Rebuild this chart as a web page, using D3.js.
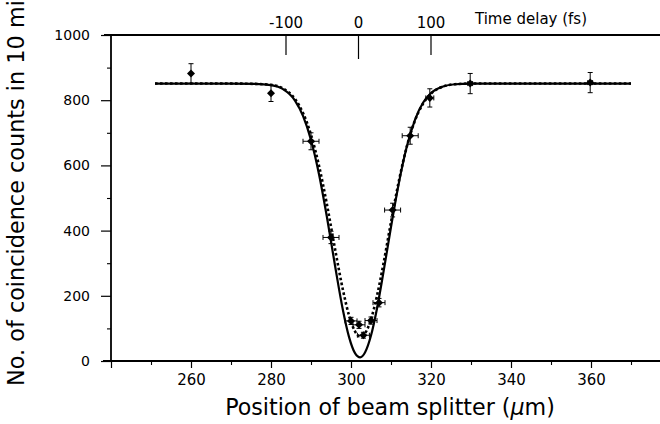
<!DOCTYPE html>
<html><head><meta charset="utf-8">
<script src="https://cdn.jsdelivr.net/npm/d3@7"></script>
<style>body{margin:0;background:#fff} svg{display:block}</style>
</head><body>
<script>
// ---- data ----
const pointX   = [260, 280, 290, 295, 300, 302, 303.1, 305, 307, 310.4, 314.8, 319.7, 329.8, 359.8];
const pointY   = [882, 821, 674, 379, 123, 111, 79, 124, 179, 463, 691, 807, 851, 854];
const pointXErr= [0, 0, 2, 2, 1.5, 1.5, 1.5, 1.5, 1.5, 2, 2, 1, 0.6, 0.6];
const pointYErr= [30, 25, 26, 19, 11, 11, 9, 11, 13, 21, 26, 28, 31, 31];

const curveX    = [251,270,276,280,283,286,288,290,292,294,296,298,299.5,301,302.3,303.5,305,306.5,308,310,312,314,316,318,320,323,326,330,370];
const solidFit  = [851,851,850,846,834,799,752,678,573,440,293,155,74,24,11,26,78,161,264,411,548,660,740,792,822,842,849,851,851];
const dottedFit = [851,851,850,847,836,804,761,694,599,479,344,217,140,91,75,85,128,200,291,426,554,660,738,789,820,842,849,851,851];

const xMajorTicks = [240,260,280,300,320,340,360];
const xLabelTicks = [260,280,300,320,340,360];
const xMinorTicks = [250,270,290,310,330,350,370];
const yMajorTicks = [0,200,400,600,800,1000];
const yMinorTicks = [100,300,500,700,900];
const timeTicks   = [-100,0,100];

const xTitle = "Position of beam splitter (";
const yTitle = "No. of coincidence counts in 10 min.";
const topTitle = "Time delay (fs)";

// ---- drawing ----
const W=660,H=424;
const svg=d3.select('body').append('svg').attr('width',W).attr('height',H)
  .style('font-family','"DejaVu Sans", sans-serif').style('background','#fff');

const x=d3.scaleLinear().domain([240,370]).range([111,631]);
const y=d3.scaleLinear().domain([0,1000]).range([361,35]);
const t=d3.scaleLinear().domain([-100,100]).range([286,431]);

// frame lines
svg.append('line').attr('x1',103).attr('x2',W).attr('y1',361).attr('y2',361).attr('stroke','#000').attr('stroke-width',1.8);
svg.append('line').attr('x1',111).attr('x2',111).attr('y1',35).attr('y2',361).attr('stroke','#000').attr('stroke-width',1.8);
svg.append('line').attr('x1',104).attr('x2',W).attr('y1',35).attr('y2',35).attr('stroke','#000').attr('stroke-width',1.8);

// bottom axis
const gx=svg.append('g').attr('transform','translate(0,361)');
gx.call(d3.axisBottom(x).tickValues(xMajorTicks).tickSize(7).tickFormat(d=>xLabelTicks.includes(d)?d:''));
gx.select('.domain').remove();
gx.selectAll('line').attr('stroke','#000').attr('stroke-width',1.2);
gx.selectAll('text').attr('font-size',15).attr('font-family','"DejaVu Sans", sans-serif').attr('fill','#000').attr('y',13).attr('dy','0.71em');
const gx2=svg.append('g').attr('transform','translate(0,361)');
gx2.call(d3.axisBottom(x).tickValues(xMinorTicks).tickSize(4).tickFormat(''));
gx2.select('.domain').remove();
gx2.selectAll('line').attr('stroke','#000').attr('stroke-width',1.1);

// left axis
const gy=svg.append('g').attr('transform','translate(111,0)');
gy.call(d3.axisLeft(y).tickValues(yMajorTicks).tickSize(10).tickFormat(d3.format('d')));
gy.select('.domain').remove();
gy.selectAll('line').attr('stroke','#000').attr('stroke-width',1.2);
gy.selectAll('text').attr('font-size',14).attr('font-family','"DejaVu Sans", sans-serif').attr('fill','#000').attr('x',-21);
const gy2=svg.append('g').attr('transform','translate(111,0)');
gy2.call(d3.axisLeft(y).tickValues(yMinorTicks).tickSize(4).tickFormat(''));
gy2.select('.domain').remove();
gy2.selectAll('line').attr('stroke','#000').attr('stroke-width',1.1);

// top time-delay axis
const gt=svg.append('g');
gt.selectAll('line').data(timeTicks).join('line')
  .attr('x1',d=>t(d)).attr('x2',d=>t(d)).attr('y1',35).attr('y2',d=>d===0?59:55)
  .attr('stroke','#000').attr('stroke-width',1.2);
gt.selectAll('text').data(timeTicks).join('text')
  .attr('x',d=>t(d)).attr('y',28).attr('text-anchor','middle').attr('font-size',15).text(d=>d);
svg.append('text').attr('x',475).attr('y',24).attr('font-size',15).text(topTitle);

// fit curves
const pts=(ys)=>curveX.map((v,i)=>[v,ys[i]]);
const line=d3.line().x(d=>x(d[0])).y(d=>y(d[1])).curve(d3.curveMonotoneX);
svg.append('path').attr('d',line(pts(dottedFit))).attr('fill','none').attr('stroke','#000')
  .attr('stroke-width',2.6).attr('stroke-dasharray','2.6,2.4');
svg.append('path').attr('d',line(pts(solidFit))).attr('fill','none').attr('stroke','#000')
  .attr('stroke-width',2.2);

// error bars and markers
const data=pointX.map((v,i)=>({x:v,y:pointY[i],xe:pointXErr[i],ye:pointYErr[i]}));
const eb=svg.append('g').attr('stroke','#000').attr('stroke-width',1);
data.forEach(d=>{
  const cx=x(d.x), cy=y(d.y);
  eb.append('line').attr('x1',cx).attr('x2',cx).attr('y1',y(d.y-d.ye)).attr('y2',y(d.y+d.ye));
  eb.append('line').attr('x1',cx-2.5).attr('x2',cx+2.5).attr('y1',y(d.y-d.ye)).attr('y2',y(d.y-d.ye));
  eb.append('line').attr('x1',cx-2.5).attr('x2',cx+2.5).attr('y1',y(d.y+d.ye)).attr('y2',y(d.y+d.ye));
  if(d.xe>0){
    eb.append('line').attr('x1',x(d.x-d.xe)).attr('x2',x(d.x+d.xe)).attr('y1',cy).attr('y2',cy);
    eb.append('line').attr('x1',x(d.x-d.xe)).attr('x2',x(d.x-d.xe)).attr('y1',cy-2.5).attr('y2',cy+2.5);
    eb.append('line').attr('x1',x(d.x+d.xe)).attr('x2',x(d.x+d.xe)).attr('y1',cy-2.5).attr('y2',cy+2.5);
  }
});
svg.append('g').selectAll('path').data(data).join('path')
  .attr('d',d3.symbol(d3.symbolSquare,32))
  .attr('transform',d=>`translate(${x(d.x)},${y(d.y)}) rotate(45)`)
  .attr('fill','#000');

// axis titles
const xt=svg.append('text').attr('x',390).attr('y',415).attr('text-anchor','middle').attr('font-size',20);
xt.append('tspan').text(xTitle);
xt.append('tspan').attr('font-style','italic').text('\u03bc');
xt.append('tspan').text('m)');
{ const L=xt.node().getComputedTextLength(); xt.attr('font-size',20*330/L); }

const yt=svg.append('text').attr('transform','translate(24,386) rotate(-90)').attr('font-size',20).text(yTitle.slice(0,34));
{ const L=yt.node().getComputedTextLength(); yt.attr('font-size',20*386/L).text(yTitle); }
</script>
</body></html>
